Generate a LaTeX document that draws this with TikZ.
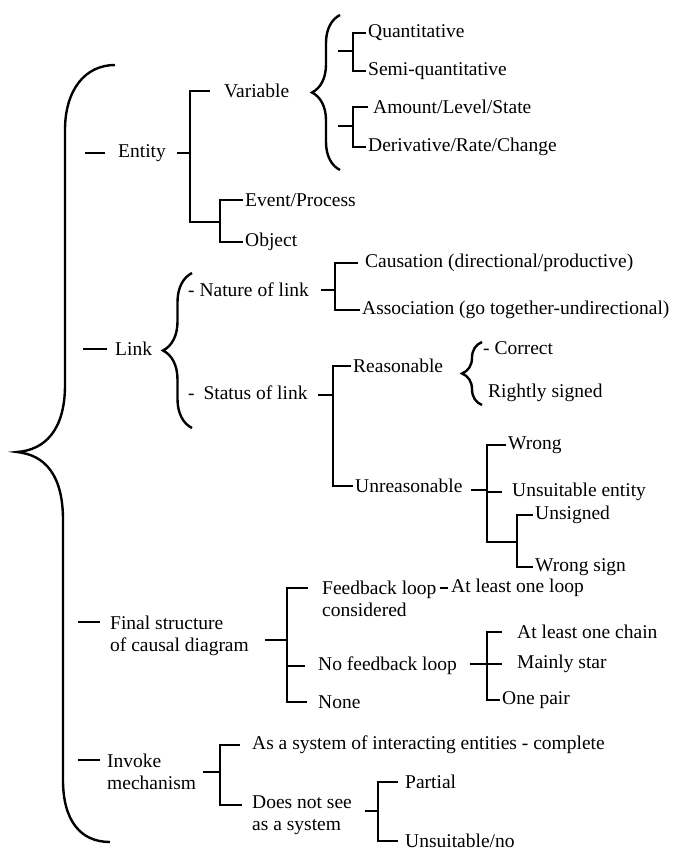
\documentclass[tikz,border=0pt]{standalone}
\usepackage{fontspec}
\setmainfont{Liberation Serif}
\usepackage{tikz}
\usetikzlibrary{calc,decorations.pathreplacing}

\begin{document}
\begin{tikzpicture}[
    x=1pt, y=-1pt,
    every node/.style={anchor=west, inner sep=2pt, align=left,
        font=\fontsize{19.5}{21.5}\selectfont},
    bracket/.style={line width=2.6pt},
    curly/.style={line width=2.4pt, decorate,
        decoration={brace, amplitude=#1}}
]
\useasboundingbox (0,0) rectangle (682,851);

% Primer nivel
\node (ent) at (116,153) {Entity};
\node (lnk) at (113,349) {Link};
\node (fin) at (108,636) {Final structure\\of causal diagram};
\node (inv) at (105,772) {Invoke\\mechanism};

% Entity
\node (var) at (222,91) {Variable};
\node (evp) at (243,200) {Event/Process};
\node (obj) at (243,242) {Object};
\node (qua) at (366,33) {Quantitative};
\node (sem) at (366,71) {Semi-quantitative};
\node (amo) at (371,107) {Amount/Level/State};
\node (der) at (366,147) {Derivative/Rate/Change};

% Link
\node (nat) at (186,290) {- Nature of link};
\node (sta) at (186,393) {-\hspace{4pt} Status of link};
\node (cau) at (363,263) {Causation (directional/productive)};
\node (ass) at (360,310) {Association (go together-undirectional)};
\node (rea) at (351,366) {Reasonable};
\node (unr) at (353,486) {Unreasonable};
\node (cor) at (481,348) {- Correct};
\node (rig) at (486,393) {Rightly signed};
\node (wro) at (506,445) {Wrong};
\node (uen) at (510,492) {Unsuitable entity};
\node (uns) at (533,515) {Unsigned};
\node (wsi) at (533,567) {Wrong sign};

% Final structure
\node (fbl) at (320,599) {Feedback loop\\considered};
\node (alo) at (449,588) {At least one loop};
\node (nfl) at (316,666) {No feedback loop};
\node (non) at (316,702) {None};
\node (alc) at (515,632) {At least one chain};
\node (mst) at (515,664) {Mainly star};
\node (opa) at (500,700) {One pair};

% Invoke mechanism
\node (sys) at (250,745) {As a system of interacting entities - complete};
\node (dns) at (250,815) {Does not see\\as a system};
\node (par) at (403,782) {Partial};
\node (uno) at (403,841) {Unsuitable/no};

% Llave principal
\draw[line width=2.4pt] (115,65) .. controls (85,65) and (65,90) .. (65,130)
    -- (65,385) .. controls (65,430) and (45,450) .. (17,452)
    .. controls (45,455) and (63,475) .. (63,520)
    -- (63,780) .. controls (63,820) and (80,842) .. (110,842);

% Guiones del primer nivel
\draw[bracket] ([xshift=-11pt]ent.west) -- ++(-20,0);
\draw[bracket] ([xshift=-6pt]lnk.west) -- ++(-24,0);
\draw[bracket] ([xshift=-8pt,yshift=14pt]fin.west) -- ++(-22,0);
\draw[bracket] ([xshift=-5pt,yshift=12pt]inv.west) -- ++(-22,0);

% Entity: corchetes
\coordinate (jEnt) at (190,153);
\coordinate (jEvp) at (220,222);
\coordinate (jQ1) at (353,51);
\coordinate (jQ2) at (353,126);
\draw[bracket, shorten <=9pt] (ent.east) -- (jEnt);
\draw[bracket, shorten <=12pt] (var.west) -| (jEnt) |- (jEvp);
\draw[bracket] (evp.west) -| (jEvp) |- (obj.west);
\draw[curly=28pt] (340,170) -- (340,15);
\draw[bracket] ([xshift=-15pt]jQ1) -- (jQ1);
\draw[bracket] (qua.west) -| (jQ1) |- (sem.west);
\draw[bracket] ([xshift=-15pt]jQ2) -- (jQ2);
\draw[bracket, shorten <=3pt] (amo.west) -| (jQ2) |- (der.west);

% Link: corchetes
\draw[curly=29pt] (192,428) -- (192,273);
\coordinate (jNat) at (335,290);
\coordinate (jSta) at (333,395);
\draw[bracket, shorten <=10pt] (nat.east) -- (jNat);
\draw[bracket, shorten <=5pt] (cau.west) -| (jNat) |- (ass.west);
\draw[bracket, shorten <=8pt] (sta.east |- jSta) -- (jSta);
\draw[bracket] (rea.west) -| (jSta) |- (unr.west);
\draw[curly=20pt] (482,405) -- (482,342);
\coordinate (jUnr) at (487,490);
\coordinate (jUns) at (517,542);
\draw[bracket, shorten <=6pt] (unr.east |- jUnr) -- (jUnr);
\draw[bracket] (wro.west) -| (jUnr) |- (jUns);
\draw[bracket, shorten >=8pt] (jUnr |- uen.west) -- (uen.west);
\draw[bracket] (uns.west) -| (jUns) |- (wsi.west);

% Final structure: corchetes
\coordinate (jFin) at (287,640);
\coordinate (jNfl) at (487,664);
\draw[bracket, shorten <=14pt] (fin.east |- jFin) -- (jFin);
\draw[bracket, shorten <=12pt, shorten >=9pt]
    ([yshift=11pt]fbl.west) -| (jFin) |- (non.west);
\draw[bracket, shorten >=11pt] (jFin |- nfl.west) -- (nfl.west);
\draw[bracket, shorten <=1pt, shorten >=1pt] ([yshift=11pt]fbl.east) -- (alo.west);
\draw[bracket, shorten <=11pt] (nfl.east |- jNfl) -- (jNfl);
\draw[bracket, shorten <=13pt] (alc.west) -| (jNfl) |- (opa.west);
\draw[bracket, shorten >=13pt] (jNfl |- mst.west) -- (mst.west);

% Invoke mechanism: corchetes
\coordinate (jInv) at (220,772);
\coordinate (jDns) at (378,811);
\draw[bracket, shorten <=5pt] (inv.east |- jInv) -- (jInv);
\draw[bracket, shorten <=10pt, shorten >=8pt]
    (sys.west) -| (jInv) |- ([yshift=10pt]dns.west);
\draw[bracket, shorten <=11pt] (dns.east |- jDns) -- (jDns);
\draw[bracket, shorten <=5pt, shorten >=5pt] (par.west) -| (jDns) |- (uno.west);

\end{tikzpicture}
\end{document}
